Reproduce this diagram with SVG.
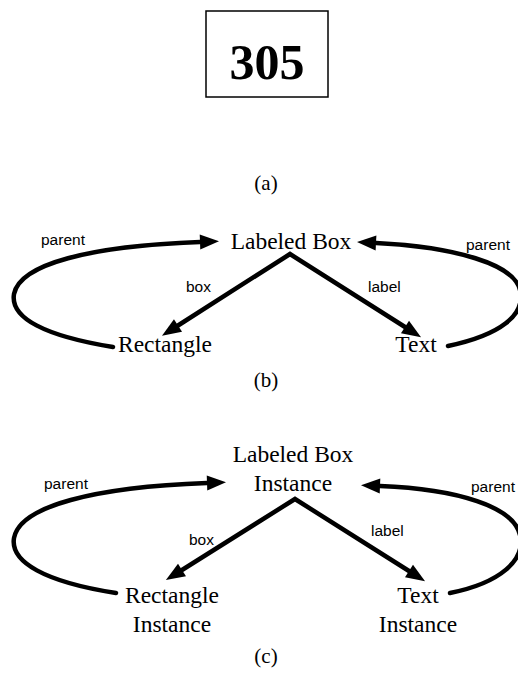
<svg xmlns="http://www.w3.org/2000/svg" width="518" height="685" viewBox="0 0 518 685">
<style>
.serif{font-family:"Liberation Serif","Times New Roman",serif;fill:#000}
.node{font-size:23.5px;text-anchor:middle}
.cap{font-size:21px;text-anchor:middle}
.lbl{font-family:"Liberation Sans",Arial,sans-serif;font-size:15.5px;fill:#000}
.edge{fill:none;stroke:#000;stroke-width:4.5;stroke-linecap:round;stroke-linejoin:miter}
</style>
<defs>
<marker id="ah" markerUnits="userSpaceOnUse" markerWidth="22" markerHeight="18" refX="0" refY="7.5" orient="auto-start-reverse" overflow="visible">
<path d="M0,0 L19,7.5 L0,15 z" fill="#000"/>
</marker>
</defs>
<rect width="518" height="685" fill="#fff"/>
<g id="box305">
<rect x="206" y="11" width="122" height="86" fill="none" stroke="#000" stroke-width="1.5"/>
<text class="serif" x="267" y="79" font-size="50" font-weight="bold" text-anchor="middle">305</text>
</g>
<text class="serif cap" x="266" y="190">(a)</text>
<g id="b-labeledbox"><text class="serif node" x="291" y="249">Labeled Box</text></g>
<g id="b-rectangle"><text class="serif node" x="165" y="352">Rectangle</text></g>
<g id="b-text"><text class="serif node" x="416" y="352">Text</text></g>
<text class="serif cap" x="266" y="387">(b)</text>
<g id="c-labeledbox"><text class="serif node" x="293" y="462">Labeled Box</text><text class="serif node" x="293" y="491">Instance</text></g>
<g id="c-rectangle"><text class="serif node" x="172" y="603">Rectangle</text><text class="serif node" x="172" y="632">Instance</text></g>
<g id="c-text"><text class="serif node" x="418" y="603">Text</text><text class="serif node" x="418" y="632">Instance</text></g>
<text class="serif cap" x="266" y="663">(c)</text>
<g id="connectors">
<path class="edge" d="M113,347 C45,336 10,318 14,294 C20,264 90,246 200,242" marker-end="url(#ah)"/>
<path class="edge" d="M448,346 C500,335 526,315 520,290 C514,264 455,247 376,243" marker-end="url(#ah)"/>
<path class="edge" d="M178,325.5 L290,254 L405,327" marker-start="url(#ah)" marker-end="url(#ah)"/>
<path class="edge" d="M116,593 C45,582 10,562 14,538 C20,506 95,487 207,483" marker-end="url(#ah)"/>
<path class="edge" d="M450,593 C500,583 526,560 520,535 C514,507 458,489 380,486" marker-end="url(#ah)"/>
<path class="edge" d="M182,570 L295,499 L409,571" marker-start="url(#ah)" marker-end="url(#ah)"/>
<text class="lbl" x="41" y="245">parent</text>
<text class="lbl" x="466" y="250">parent</text>
<text class="lbl" x="186" y="292">box</text>
<text class="lbl" x="368" y="292">label</text>
<text class="lbl" x="44" y="489">parent</text>
<text class="lbl" x="471" y="492">parent</text>
<text class="lbl" x="189" y="545">box</text>
<text class="lbl" x="371" y="536">label</text>
</g>
</svg>
